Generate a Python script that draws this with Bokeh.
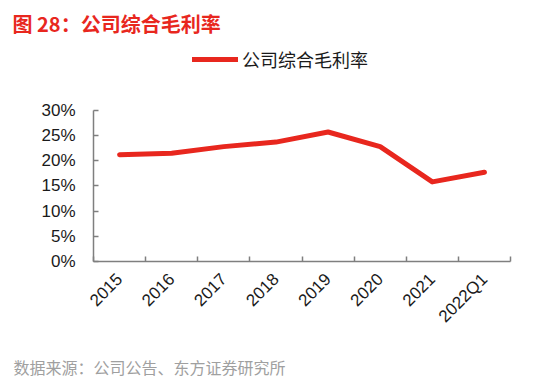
from bokeh.plotting import figure
from bokeh.layouts import column
from bokeh.models import (Range1d, FixedTicker, NumeralTickFormatter, Title, Legend, LegendItem, ColumnDataSource)
from bokeh.embed import file_html
from bokeh.resources import INLINE

categories = ["2015", "2016", "2017", "2018", "2019", "2020", "2021", "2022Q1"]
margin = [0.212, 0.215, 0.228, 0.237, 0.257, 0.228, 0.158, 0.177]
y_ticks = [0, 0.05, 0.10, 0.15, 0.20, 0.25, 0.30]
title_text = "图 28：公司综合毛利率"
series_name = "公司综合毛利率"
source_text = "数据来源：公司公告、东方证券研究所"

RED = "#E8271E"
AXIS = "#7f7f7f"
LABEL_FONT = "Liberation Sans"
CJK = "Noto Sans CJK SC"

n = len(categories)
xs = [i + 0.5 for i in range(n)]

p = figure(width=550, height=352, output_backend="svg", toolbar_location=None,
           x_range=Range1d(0, n), y_range=Range1d(0, 0.4327),
           min_border_left=93, min_border_right=40, min_border_top=36, min_border_bottom=91)
p.outline_line_color = None
p.grid.visible = False
p.background_fill_color = "white"
p.border_fill_color = "white"

src = ColumnDataSource(dict(x=xs, y=margin))
r = p.line("x", "y", source=src, line_color=RED, line_width=5, line_join="round", line_cap="round")

# x axis
xa = p.xaxis[0]
xa.ticker = FixedTicker(ticks=xs, minor_ticks=list(range(n + 1)))
xa.major_label_overrides = {x: c for x, c in zip(xs, categories)}
xa.major_tick_in = 0
xa.major_tick_out = 0
xa.minor_tick_in = 5
xa.minor_tick_out = 0
xa.minor_tick_line_color = AXIS
xa.minor_tick_line_width = 1.5
xa.axis_line_color = AXIS
xa.axis_line_width = 1.5
xa.major_label_orientation = 0.785398
xa.major_label_text_font = LABEL_FONT
xa.major_label_text_font_size = "17px"
xa.major_label_text_color = "#1a1a1a"
xa.major_label_standoff = 15

# y axis
ya = p.yaxis[0]
ya.ticker = FixedTicker(ticks=y_ticks, minor_ticks=[])
ya.formatter = NumeralTickFormatter(format="0%")
ya.bounds = (0, 0.30)
ya.major_tick_in = 5
ya.major_tick_out = 0
ya.minor_tick_in = 0
ya.minor_tick_out = 0
ya.major_tick_line_color = AXIS
ya.major_tick_line_width = 1.5
ya.axis_line_color = AXIS
ya.axis_line_width = 1.5
ya.major_label_text_font = LABEL_FONT
ya.major_label_text_font_size = "17px"
ya.major_label_text_color = "#1a1a1a"
ya.major_label_standoff = 18

# legend
legend = Legend(items=[LegendItem(label=series_name, renderers=[r])],
                location=(99, 189), orientation="horizontal",
                border_line_color=None, background_fill_alpha=0,
                padding=0, margin=0, glyph_width=46, glyph_height=20,
                label_height=20, label_standoff=4, spacing=0,
                label_text_font=CJK, label_text_font_size="18px",
                label_text_color="#1a1a1a")
p.add_layout(legend)

# title
p.add_layout(Title(text=title_text, align="left", offset=-81, standoff=12,
                   text_font=CJK, text_font_size="20px", text_font_style="bold",
                   text_color=RED), "above")

# source note strip
s = figure(width=550, height=30, output_backend="svg", toolbar_location=None,
           x_range=Range1d(0, 1), y_range=Range1d(0, 1),
           x_axis_location=None, y_axis_location=None,
           min_border_left=93, min_border_right=40, min_border_top=24, min_border_bottom=0)
s.outline_line_color = None
s.grid.visible = False
s.background_fill_color = "white"
s.border_fill_color = "white"
s.add_layout(Title(text=source_text, align="left", offset=-80, standoff=0,
                   text_font=CJK, text_font_size="16px", text_font_style="normal",
                   text_color="#a0a0a0"), "above")

layout = column(p, s, spacing=0)
open("out.html", "w").write(file_html(layout, INLINE))
